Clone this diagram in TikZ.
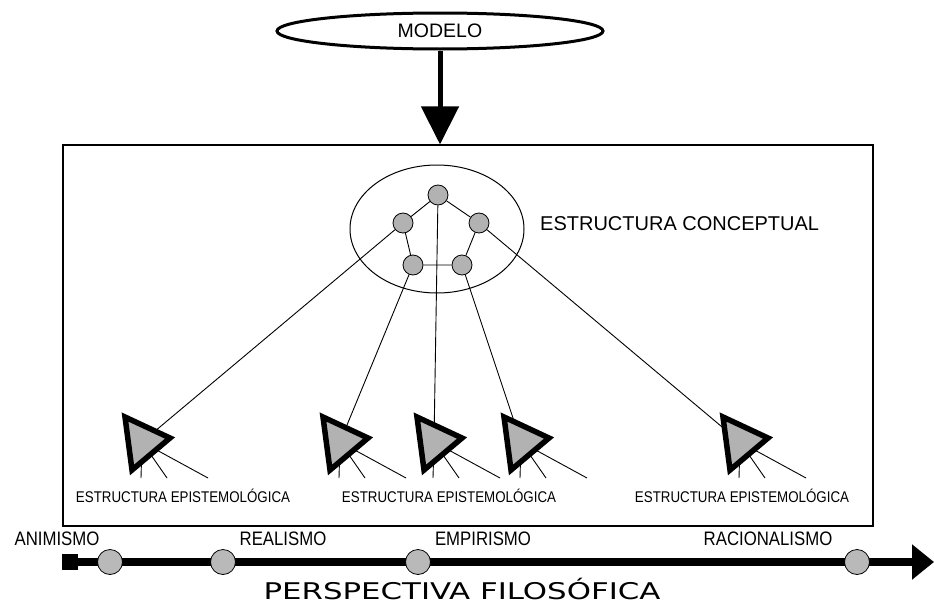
\documentclass[tikz,border=0pt]{standalone}
\usepackage{fontspec}
\setmainfont{Liberation Sans}
\newfontfamily\narrowsans[FakeStretch=0.86]{Liberation Sans}
\newfontfamily\widesans[FakeStretch=1.34]{DejaVu Sans}
\usetikzlibrary{arrows.meta,positioning,calc,shapes.geometric}

\begin{document}
\begin{tikzpicture}
[x=1pt,y=-1pt,
 n/.style={circle,draw,fill=gray!60,inner sep=0pt,minimum size=20pt,line width=0.8pt},
 hito/.style={circle,draw,fill=gray!55,inner sep=0pt,minimum size=25pt,line width=0.8pt},
 lab/.style={anchor=base,inner sep=0pt,font=\narrowsans\fontsize{15.5}{18}\selectfont},
 eje/.style={anchor=base,inner sep=0pt,font=\narrowsans\fontsize{19.5}{22}\selectfont},
 tri/.style={line width=5.5pt,fill=gray!60,line join=miter},
 rama/.style={line width=0.9pt}]
\useasboundingbox (0,0) rectangle (934,605);
\node[ellipse,draw,line width=3pt,minimum width=326pt,minimum height=36pt,inner sep=0pt,font=\fontsize{19.5}{22}\selectfont] (modelo) at (440,31) {MODELO};
\node[draw,line width=1.2pt,minimum width=810pt,minimum height=381pt,inner sep=0pt] (marco) at (468,335.5) {};
\draw[line width=5pt,-{Triangle[width=37pt,length=38pt]}] (modelo.south) -- (modelo.south |- marco.north);
\node[ellipse,draw,line width=1pt,minimum width=174pt,minimum height=128pt] (concepto) at (437,229) {};
\node[n] (c1) at (438,195) {};
\node[n] (c2) at (403,223) {};
\node[n] (c3) at (479,223) {};
\node[n] (c4) at (413,265) {};
\node[n] (c5) at (462,265) {};
\draw[rama] (c1) -- (c2) (c1) -- (c3) (c2) -- (c4) (c3) -- (c5) (c4) -- (c5);
\node[anchor=base west,inner sep=0pt,font=\fontsize{20}{24}\selectfont] (conceptual) at (540,230) {ESTRUCTURA CONCEPTUAL};
\foreach \n/\x in {1/142,2/340,3/434,4/521,5/740}
  \coordinate (t\n) at (\x,442);
\draw[rama] (c2) -- (t1);
\draw[rama] (c4) -- (t2);
\draw[rama] (c1) -- (t3);
\draw[rama] (c5) -- (t4);
\draw[rama] (c3) -- (t5);
\foreach \n in {1,...,5}{
  \draw[rama] (t\n) -- ++(-1,36) (t\n) -- ++(25,36) (t\n) -- ++(66,36);
  \draw[tri] (t\n) ++(-17,-25) -- ++(45,21) -- ++(-38,32) -- cycle;
}
\node[lab] (epis1) at (183,502) {ESTRUCTURA EPISTEMOLÓGICA};
\node[lab] (epis2) at (449,502) {ESTRUCTURA EPISTEMOLÓGICA};
\node[lab] (epis3) at (742,502) {ESTRUCTURA EPISTEMOLÓGICA};
\node[fill,inner sep=0pt,minimum size=16pt] (inicio) at (70,562) {};
\coordinate (fin) at (934,562);
\draw[line width=8pt,-{Triangle[width=34pt,length=22pt]}] (inicio) -- (fin);
\node[hito] (h1) at (110,562) {};
\node[hito] (h2) at (223,562) {};
\node[hito] (h3) at (418,562) {};
\node[hito] (h4) at (857,562) {};
\node[eje] (animismo) at (57,545) {ANIMISMO};
\node[eje] (realismo) at (283,545) {REALISMO};
\node[eje] (empirismo) at (483,545) {EMPIRISMO};
\node[eje] (racionalismo) at (768,545) {RACIONALISMO};
\node[anchor=base,inner sep=0pt,font=\widesans\fontsize{23}{26}\selectfont] (perspectiva) at (462,599) {PERSPECTIVA FILOSÓFICA};
\end{tikzpicture}
\end{document}
